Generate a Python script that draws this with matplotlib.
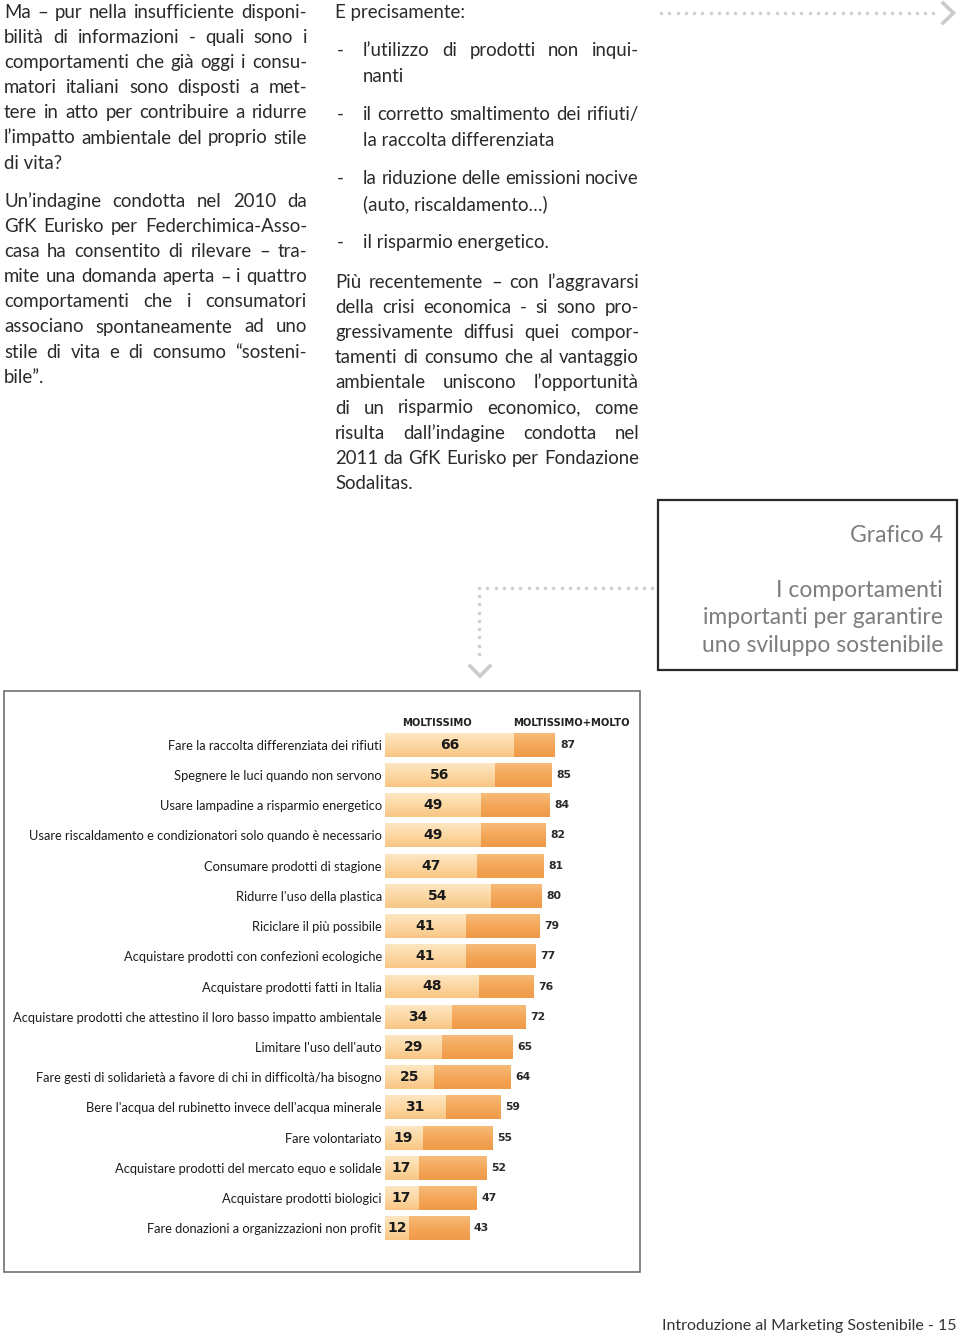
import matplotlib
matplotlib.use('Agg')
import matplotlib.pyplot as plt
import numpy as np
from matplotlib import font_manager as fm
from matplotlib.patches import Rectangle
from matplotlib.colors import LinearSegmentedColormap

# ---------------- chart data ----------------
categories = [
    "Fare la raccolta differenziata dei rifiuti",
    "Spegnere le luci quando non servono",
    "Usare lampadine a risparmio energetico",
    "Usare riscaldamento e condizionatori solo quando è necessario",
    "Consumare prodotti di stagione",
    "Ridurre l'uso della plastica",
    "Riciclare il più possibile",
    "Acquistare prodotti con confezioni ecologiche",
    "Acquistare prodotti fatti in Italia",
    "Acquistare prodotti che attestino il loro basso impatto ambientale",
    "Limitare l'uso dell'auto",
    "Fare gesti di solidarietà a favore di chi in difficoltà/ha bisogno",
    "Bere l'acqua del rubinetto invece dell'acqua minerale",
    "Fare volontariato",
    "Acquistare prodotti del mercato equo e solidale",
    "Acquistare prodotti biologici",
    "Fare donazioni a organizzazioni non profit",
]
moltissimo = [66, 56, 49, 49, 47, 54, 41, 41, 48, 34, 29, 25, 31, 19, 17, 17, 12]
moltissimo_molto = [87, 85, 84, 82, 81, 80, 79, 77, 76, 72, 65, 64, 59, 55, 52, 47, 43]
series_names = ["MOLTISSIMO", "MOLTISSIMO+MOLTO"]

# ---------------- page text ----------------
left_par1 = [
    ("Ma – pur nella insufficiente disponi-", True),
    ("bilità di informazioni - quali sono i", True),
    ("comportamenti che già oggi i consu-", True),
    ("matori italiani sono disposti a met-", True),
    ("tere in atto per contribuire a ridurre", True),
    ("l’impatto ambientale del proprio stile", True),
    ("di vita?", False),
]
left_par2 = [
    ("Un’indagine condotta nel 2010 da", True),
    ("GfK Eurisko per Federchimica-Asso-", True),
    ("casa ha consentito di rilevare – tra-", True),
    ("mite una domanda aperta – i quattro", True),
    ("comportamenti che i consumatori", True),
    ("associano spontaneamente ad uno", True),
    ("stile di vita e di consumo “sosteni-", True),
    ("bile”.", False),
]
right_head = "E precisamente:"
bullets = [
    [("l’utilizzo di prodotti non inqui-", True), ("nanti", False)],
    [("il corretto smaltimento dei rifiuti/", True), ("la raccolta differenziata", False)],
    [("la riduzione delle emissioni nocive", True), ("(auto, riscaldamento…)", False)],
    [("il risparmio energetico.", False)],
]
right_par = [
    ("Più recentemente – con l’aggravarsi", True),
    ("della crisi economica - si sono pro-", True),
    ("gressivamente diffusi quei compor-", True),
    ("tamenti di consumo che al vantaggio", True),
    ("ambientale uniscono l’opportunità", True),
    ("di un risparmio economico, come", True),
    ("risulta dall’indagine condotta nel", True),
    ("2011 da GfK Eurisko per Fondazione", True),
    ("Sodalitas.", False),
]
box_label = "Grafico 4"
box_title = ["I comportamenti", "importanti per garantire", "uno sviluppo sostenibile"]
footer = "Introduzione al Marketing Sostenibile - 15"


def pick(names):
    for n in names:
        try:
            fm.findfont(fm.FontProperties(family=n), fallback_to_default=False)
            return n
        except Exception:
            pass
    return 'DejaVu Sans'


BODY = pick(['Lato', 'Open Sans', 'Noto Sans'])
LABF = pick(['Liberation Sans Narrow', 'Lato', 'Open Sans'])
NUMF = 'DejaVu Sans'

W, H = 960, 1334
fig = plt.figure(figsize=(W / 100, H / 100), dpi=100)
bg = fig.add_axes([0, 0, 1, 1])
bg.set_xlim(0, W)
bg.set_ylim(H, 0)
bg.axis('off')
r = fig.canvas.get_renderer()


def tw(s, fp):
    return r.get_text_width_height_descent(s, fp, ismath=False)[0]


TXT = '#2a2a2a'

# body font size: fit the tightest justified line
base = 13.4
fp0 = fm.FontProperties(family=BODY, size=base)
scale = 1.0
checks = [(l, 303) for l, j in left_par1 + left_par2 if j] + \
         [(l, 304) for l, j in right_par if j] + \
         [(b[0][0], 276) for b in bullets if b[0][1]]
for line, avail in checks:
    words = line.split(' ')
    need = sum(tw(w, fp0) for w in words) + (len(words) - 1) * 0.2 * base * 100 / 72
    scale = min(scale, avail / need)
fp = fm.FontProperties(family=BODY, size=base * scale)


def put_line(text, x0, x1, y, justify, prop=fp, color=TXT):
    if not justify:
        bg.text(x0, y, text, fontproperties=prop, color=color, ha='left', va='baseline')
        return
    words = text.split(' ')
    ws = [tw(w, prop) for w in words]
    gap = (x1 - x0 - sum(ws)) / (len(words) - 1)
    x = x0
    for w, wd in zip(words, ws):
        bg.text(x, y, w, fontproperties=prop, color=color, ha='left', va='baseline')
        x += wd + gap


LS = 25.1
for i, (l, j) in enumerate(left_par1):
    put_line(l, 4, 307, 18 + LS * i, j)
for i, (l, j) in enumerate(left_par2):
    put_line(l, 4, 307, 207 + LS * i, j)

put_line(right_head, 335, 639, 18, False)
bullet_y = [56, 120, 184, 248]
for b, yb in zip(bullets, bullet_y):
    bg.text(337, yb, "-", fontproperties=fp, color=TXT, va='baseline')
    for k, (l, j) in enumerate(b):
        put_line(l, 363, 639, yb + 26 * k, j)
for i, (l, j) in enumerate(right_par):
    put_line(l, 335, 639, 288 + LS * i, j)

# Grafico box
bg.add_patch(Rectangle((658, 500), 299, 170, fill=False, ec='#2a2a2a', lw=1.6))
tfp = fm.FontProperties(family=BODY, size=16.5)
bg.text(943, 542, box_label, fontproperties=tfp, color='#7d7d7d', ha='right', va='baseline')
for k, t in enumerate(box_title):
    bg.text(943, 597 + 27.5 * k, t, fontproperties=tfp, color='#7d7d7d', ha='right', va='baseline')

# dotted arrows
DOT = '#d0d0d0'
xs = np.arange(661, 938, 8.25)
bg.plot(xs, np.full_like(xs, 13.0), 'o', ms=2.6, color=DOT, mec='none')
bg.plot([943, 953.5, 943], [3, 13, 23], color='#cbcbcb', lw=2.6, solid_joinstyle='miter')
xs2 = np.arange(479, 656, 8.25)
bg.plot(xs2, np.full_like(xs2, 588.0), 'o', ms=2.6, color=DOT, mec='none')
ys2 = np.arange(596, 662, 8.25)
bg.plot(np.full_like(ys2, 479.0), ys2, 'o', ms=2.6, color=DOT, mec='none')
bg.plot([470, 480, 490], [666, 676, 666], color='#cbcbcb', lw=2.6, solid_joinstyle='miter')

# footer
ffp = fm.FontProperties(family=BODY, size=11.5)
bg.text(957, 1330, footer, fontproperties=ffp, color='#333333', ha='right', va='baseline')

# chart outer frame
bg.add_patch(Rectangle((4, 690.5), 636, 581, fill=False, ec='#707070', lw=1.2))

# ---------------- bar chart ----------------
n = len(categories)
x0_px, ppu = 385.0, 1.954
top_px, bot_px = 729.5, 1243.5
ax = fig.add_axes([x0_px / W, 1 - bot_px / H, 100 * ppu / W, (bot_px - top_px) / H])
ax.set_xlim(0, 100)
ax.set_ylim(n - 0.5, -0.5)
ax.patch.set_alpha(0)
for s in ax.spines.values():
    s.set_visible(False)
ax.set_xticks([])

yy = np.arange(n)
dark_cmap = LinearSegmentedColormap.from_list('d', ['#f7bb78', '#f4a75a', '#ef9a48'])
light_cmap = LinearSegmentedColormap.from_list('l', ['#fde6c2', '#fcd8a4', '#f8c684'])
grad = np.linspace(0, 1, 64).reshape(-1, 1)

bars_dark = ax.barh(yy, moltissimo_molto, height=0.79, color='#f4a658', linewidth=0)
bars_light = ax.barh(yy, moltissimo, height=0.79, color='#fbd39b', linewidth=0)
for bars, cm in ((bars_dark, dark_cmap), (bars_light, light_cmap)):
    for p in bars:
        x, y0 = p.get_x(), p.get_y()
        w, h = p.get_width(), p.get_height()
        im = ax.imshow(grad, cmap=cm, aspect='auto', extent=(x, x + w, y0 + h, y0),
                       interpolation='bilinear', zorder=p.get_zorder() + 0.01 * (cm is light_cmap))
        im.set_clip_path(p)
ax.set_xlim(0, 100)
ax.set_ylim(n - 0.5, -0.5)

# label font fits the longest label into the available width
lp = fm.FontProperties(family=LABF, size=10)
longest = max(tw(c, lp) for c in categories)
lp = fm.FontProperties(family=LABF, size=min(10.5, 10 * 371 / longest))
ax.set_yticks(yy)
ax.set_yticklabels(categories)
for t in ax.get_yticklabels():
    t.set_fontproperties(lp)
    t.set_color('#1c1c1c')
ax.tick_params(axis='y', length=0, pad=2.2)

for i, (m, t) in enumerate(zip(moltissimo, moltissimo_molto)):
    ax.text(m / 2, i, str(m), ha='center', va='center', family=NUMF,
            fontweight='bold', fontsize=10, color='#1a1a1a', zorder=5)
    ax.text(t + 2.5, i, str(t), ha='left', va='center', family=NUMF,
            fontweight='bold', fontsize=7.8, color='#2a2a2a', zorder=5)

hfp = fm.FontProperties(family=NUMF, weight='bold', size=7.2)
ax.text(26.6, -0.6, series_names[0], ha='center', va='baseline', fontproperties=hfp,
        color='#222222', clip_on=False)
ax.text(95.2, -0.6, series_names[1], ha='center', va='baseline', fontproperties=hfp,
        color='#222222', clip_on=False)

fig.savefig('out.png', dpi=100)
